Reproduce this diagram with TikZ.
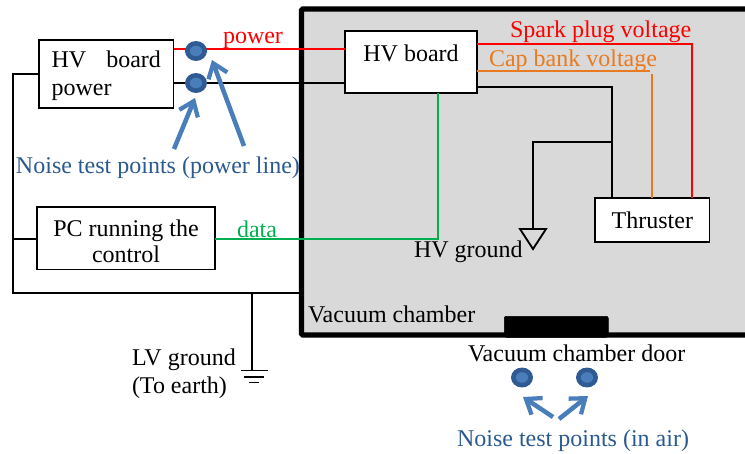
\documentclass[tikz,border=0pt]{standalone}
\usepackage{fontspec}
\setmainfont{Liberation Serif}
\definecolor{chamberfill}{HTML}{D9D9D9}
\definecolor{dotout}{HTML}{2F5A94}
\definecolor{dotin}{HTML}{4A7EBB}
\definecolor{noiseblue}{HTML}{2A5A8F}
\definecolor{wireorange}{HTML}{E97A1F}
\definecolor{wiregreen}{HTML}{00B050}
\usetikzlibrary{shapes.geometric,arrows.meta}
\tikzset{
  px/.style={x=0.75pt,y=0.75pt},
  every node/.style={font=\fontsize{18}{21}\selectfont},
  boxnode/.style={draw=black,line width=0.9pt,fill=white,inner sep=0pt,outer sep=0pt,minimum height=#1},
  lbl/.style={anchor=base west,inner sep=0pt,outer sep=0pt},
  testdot/.style={ellipse,draw=dotout,line width=3.4pt,fill=dotin,minimum width=13pt,minimum height=11.5pt,inner sep=0pt},
  wire/.style={line width=1.1pt},
  blk/.style={wire,draw=black},
  pointer/.style={draw=dotin,line width=3.4pt,-{Straight Barb[length=10pt,width=15pt,line width=3.2pt]}},
}
\newcommand{\shiftline}[2]{\raisebox{#1}[0pt][0pt]{#2}}
\begin{document}
\begin{tikzpicture}[px]
\useasboundingbox (0,0) rectangle (745,-453);
% chamber
\node[draw=black,line width=3.9pt,fill=chamberfill,rounded corners=1pt,minimum width=339pt,minimum height=244.5pt,inner sep=0pt,outer sep=0pt,anchor=north west] (chamber) at (301.5,-9) {};
\node[draw=black,fill=black,rounded corners=1.5pt,minimum width=78pt,minimum height=15.75pt,inner sep=0pt,anchor=north west] (door) at (504,-316) {};
% boxes
\node[boxnode=51pt,minimum width=101pt,align=left,text width=82pt,anchor=north west] (hvpower) at (39,-40) {\shiftline{-6pt}{HV\hspace{15pt}board}\\\shiftline{-6pt}{power}};
\node[boxnode=46.5pt,minimum width=99pt,align=center,anchor=north west] (hvboard) at (345,-31) {\shiftline{0.75pt}{HV board}};
\node[boxnode=33pt,minimum width=86pt,align=center,anchor=north west] (thruster) at (595,-198) {Thruster};
\node[boxnode=47pt,minimum width=133.5pt,align=center,anchor=north west] (pc) at (37,-207) {\shiftline{-8.25pt}{PC running the}\\[-1.5pt]\shiftline{-8.25pt}{control}};
% coordinates
\coordinate (dotA) at (196,-51);
\coordinate (dotB) at (196,-83);
\coordinate (redline) at (196,-49);
\coordinate (spark) at (692,-44);
\coordinate (capend) at (650,-71);
\coordinate (capstart) at (652,-74);
\coordinate (gnd) at (612,-87);
\coordinate (branch) at (612,-142);
\coordinate (hvgbend) at (533,-142);
\coordinate (hvgtop) at (533,-229);
\coordinate (greenbend) at (438,-239);
\coordinate (loopTL) at (13,-74);
\coordinate (loopBL) at (13,-293);
\coordinate (loopPC) at (13,-239);
\coordinate (lvtop) at (252,-293);
\coordinate (lvgnd) at (252,-370.5);
% wires
\draw[red,wire] (hvpower.east |- redline) -- (redline) -- (hvboard.west |- redline);
\draw[blk] (hvpower.east |- dotB) -- (dotB) -- (hvboard.west |- dotB);
\draw[red,wire,line width=1.3pt] (hvboard.east |- spark) -- (spark) -- (spark |- thruster.north);
\draw[wireorange,wire] (hvboard.east |- capend) -- (capend);
\draw[wireorange,wire] (capstart) -- (capstart |- thruster.north);
\draw[blk] (hvboard.east |- gnd) -- (gnd) -- (gnd |- thruster.north);
\draw[blk] (branch) -- (hvgbend) -- (hvgtop);
\draw[blk,line width=1.4pt,line join=miter] (520,-229) -- (546,-229) -- (533,-249) -- cycle;
\draw[wiregreen,wire] (pc.east |- greenbend) -- (greenbend) -- (greenbend |- hvboard.south);
\draw[blk] (hvpower.west |- loopTL) -- (loopTL) -- (loopBL) -- (chamber.west |- loopBL);
\draw[blk] (loopPC) -- (pc.west |- loopPC);
\draw[blk,line width=1pt] (lvtop) -- (lvgnd);
\draw[blk] (241,-370.5) -- (268,-370.5);
\draw[blk] (244,-377) -- (264,-377);
\draw[blk] (249,-382.5) -- (259,-382.5);
% test dots
\node[testdot] (tp1) at (dotA) {};
\node[testdot] (tp2) at (dotB) {};
\node[testdot] (tp3) at (522,-377.5) {};
\node[testdot] (tp4) at (587,-377.5) {};
% labels
\node[lbl,red] (lpower) at (223,-44) {power};
\node[lbl,wiregreen] (ldata) at (237,-237) {data};
\node[lbl,red] (lspark) at (510,-38) {Spark plug voltage};
\node[lbl,wireorange] (lcap) at (489,-66) {Cap bank voltage};
\node[lbl] (lhvg) at (414,-257) {HV ground};
\node[lbl] (lvac) at (308,-322.5) {Vacuum chamber};
\node[lbl] (ldoor) at (468,-361) {Vacuum chamber door};
\node[lbl] (llv) at (132,-365) {LV ground};
\node[lbl] (learth) at (132,-393) {(To earth)};
\node[lbl,noiseblue] (lnoise1) at (16,-173) {Noise test points (power line)};
\node[lbl,noiseblue] (lnoise2) at (457,-446) {Noise test points (in air)};
% pointers
\coordinate (p1s) at (174,-149);
\coordinate (p2s) at (244,-146);
\coordinate (p3s) at (553,-417);
\coordinate (p4s) at (559,-419);
\draw[pointer] (p1s) -- (195,-98);
\draw[pointer] (p2s) -- (212,-60);
\draw[pointer] (p3s) -- (523,-397);
\draw[pointer] (p4s) -- (588,-396);
\end{tikzpicture}
\end{document}
